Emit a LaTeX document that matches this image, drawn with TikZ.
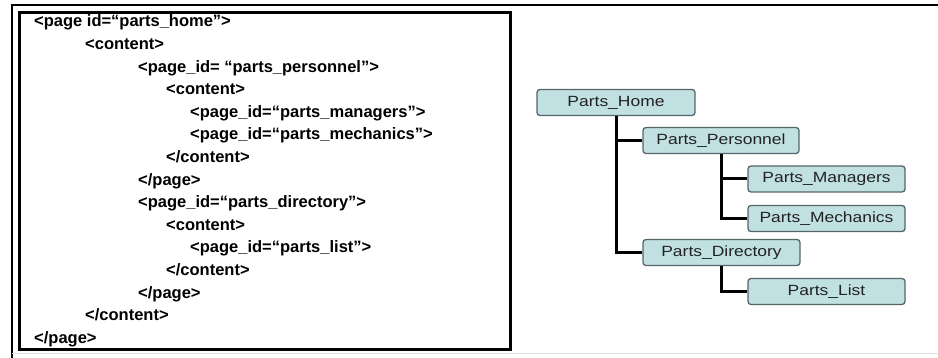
\documentclass[tikz,border=0pt]{standalone}
\usepackage{fontspec}
\setmainfont{Liberation Sans}
\newfontfamily\treefont[FakeStretch=1.18]{Liberation Sans}
\usepackage{xcolor}
\usepackage{tikz}
\usetikzlibrary{positioning,calc}

\definecolor{boxfill}{HTML}{C0E0E2}
\definecolor{boxline}{HTML}{56656A}
\definecolor{boxtext}{HTML}{222222}

\tikzset{
    codeline/.style={anchor=base west, inner sep=0pt, font=\bfseries\fontsize{16.5}{18}\selectfont},
    treebox/.style={draw=boxline, fill=boxfill, line width=1.3pt, rounded corners=3pt,
        minimum width=157pt, minimum height=26pt, inner sep=0pt, text=boxtext,
        font=\treefont\fontsize{14.8}{16}\selectfont},
    branch/.style={line width=3pt, black}
}

\begin{document}
\begin{tikzpicture}[x=1pt, y=-1pt]
    \useasboundingbox (0,0) rectangle (938,358);

    % outer frame
    \draw[line width=2.5pt] (938,5) -- (12,5) -- (12,358);
    \draw[line width=1pt, black!12] (12,354) -- (938,354);

    % xml listing
    \draw[line width=3pt] (19,13) rectangle (510,350);
    \node[codeline] (l1)  at (34,27)    {<page id=“parts\_home”>};
    \node[codeline] (l2)  at (85,49.6)  {<content>};
    \node[codeline] (l3)  at (138,72.2) {<page\_id= “parts\_personnel”>};
    \node[codeline] (l4)  at (166,94.8) {<content>};
    \node[codeline] (l5)  at (190,117.4) {<page\_id=“parts\_managers”>};
    \node[codeline] (l6)  at (190,140)  {<page\_id=“parts\_mechanics”>};
    \node[codeline] (l7)  at (166,162.6) {</content>};
    \node[codeline] (l8)  at (138,185.2) {</page>};
    \node[codeline] (l9)  at (138,207.8) {<page\_id=“parts\_directory”>};
    \node[codeline] (l10) at (166,230.4) {<content>};
    \node[codeline] (l11) at (190,253)  {<page\_id=“parts\_list”>};
    \node[codeline] (l12) at (166,275.6) {</content>};
    \node[codeline] (l13) at (138,298.2) {</page>};
    \node[codeline] (l14) at (85,320.8) {</content>};
    \node[codeline] (l15) at (34,343.4) {</page>};

    % page tree
    \node[treebox, minimum width=158pt] (home) at (616,102.5) {Parts\_Home};
    \node[treebox, minimum width=156pt] (pers) at (721,140.5) {Parts\_Personnel};
    \node[treebox] (mgr)  at (826.5,179)   {Parts\_Managers};
    \node[treebox] (mech) at (826.5,218.5) {Parts\_Mechanics};
    \node[treebox] (dir)  at (721.5,252.5) {Parts\_Directory};
    \node[treebox] (list) at (826.5,291.5) {Parts\_List};

    \draw[branch] (home.south) |- (dir.west);
    \draw[branch] (home.south |- pers.west) -- (pers.west);
    \draw[branch] (pers.south) |- (mech.west);
    \draw[branch] (pers.south |- mgr.west) -- (mgr.west);
    \draw[branch] (dir.south) |- (list.west);
\end{tikzpicture}
\end{document}
